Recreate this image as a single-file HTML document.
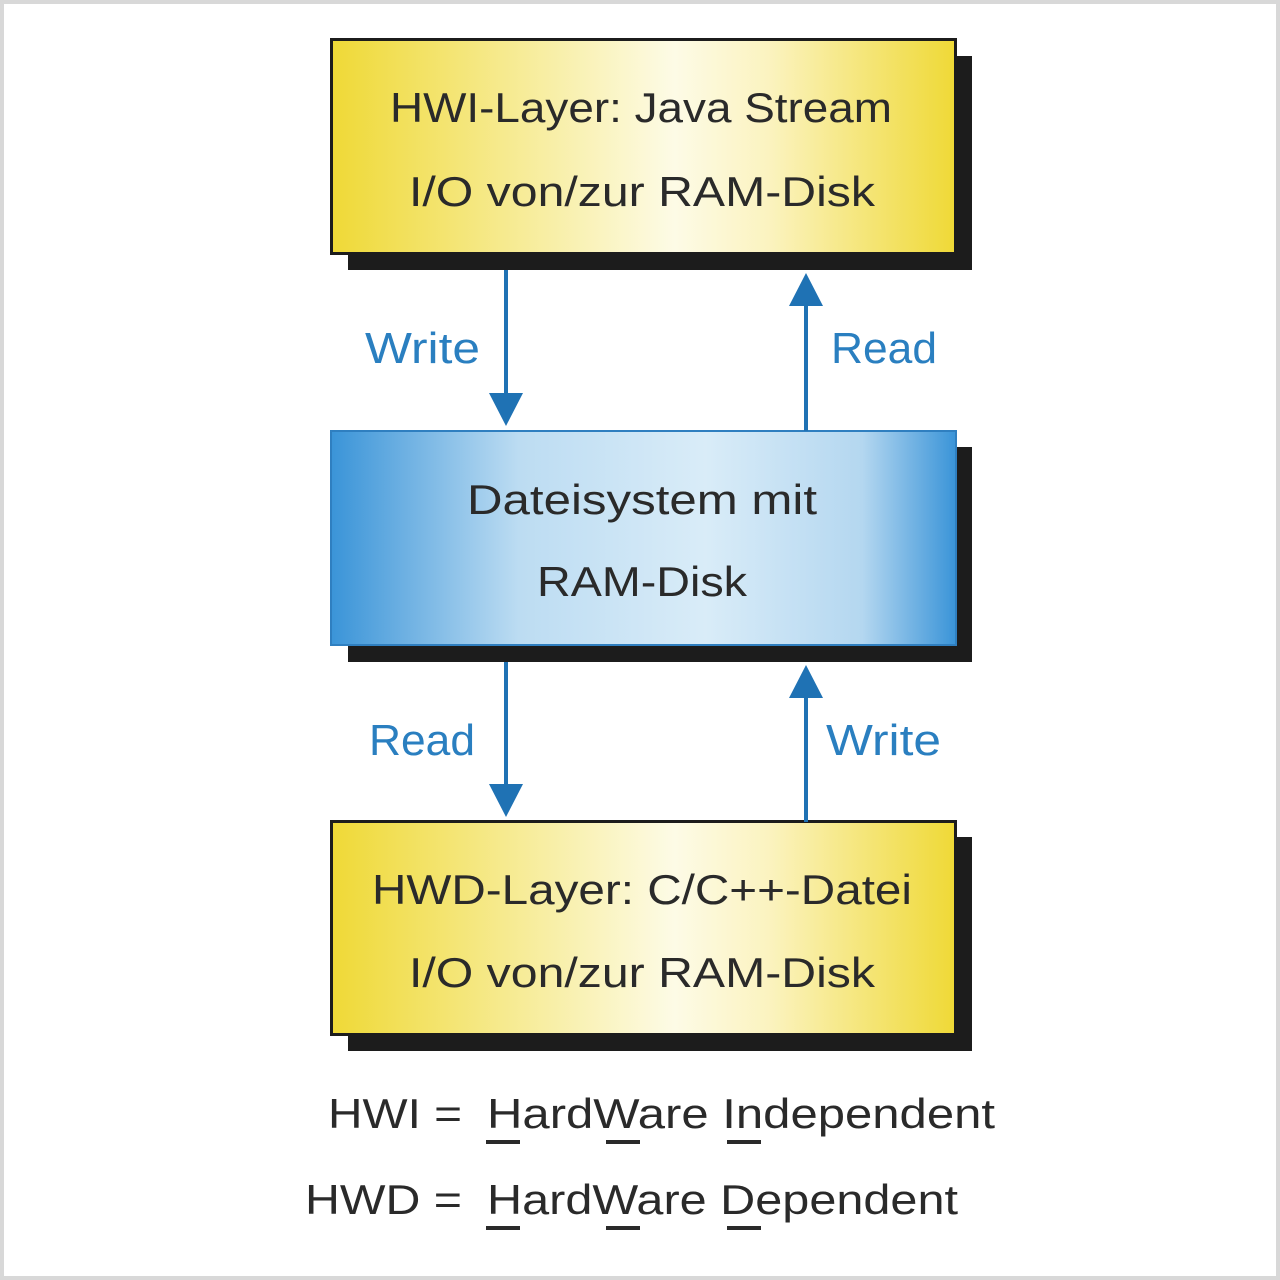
<!DOCTYPE html>
<html><head><meta charset="utf-8"><style>html,body{margin:0;padding:0;background:#fff}svg{display:block}</style></head>
<body>
<svg width="1280" height="1280" viewBox="0 0 1280 1280" xmlns="http://www.w3.org/2000/svg" font-family="'Liberation Sans', sans-serif">
<defs>
<linearGradient id="y" x1="0" x2="1" y1="0" y2="0">
<stop offset="0" stop-color="#efd936"/><stop offset="0.55" stop-color="#fdfbe6"/><stop offset="0.7" stop-color="#fbf3c0"/><stop offset="1" stop-color="#efd936"/>
</linearGradient>
<linearGradient id="b" x1="0" x2="1" y1="0" y2="0">
<stop offset="0" stop-color="#3a94d8"/><stop offset="0.3" stop-color="#bcdcf2"/><stop offset="0.6" stop-color="#d9ecf8"/><stop offset="0.85" stop-color="#b4d7f0"/><stop offset="1" stop-color="#3a94d8"/>
</linearGradient>
</defs>
<rect x="2" y="2" width="1276" height="1276" fill="#fff" stroke="#d8d8d8" stroke-width="4"/>
<!-- box 1 -->
<rect x="348" y="56" width="624" height="214" fill="#1c1c1c"/>
<rect x="331.5" y="39.5" width="624" height="214" fill="url(#y)" stroke="#1c1c1c" stroke-width="3"/>
<text x="390" y="122" font-size="42" fill="#2a2a2a" textLength="502" lengthAdjust="spacingAndGlyphs">HWI-Layer: Java Stream</text>
<text x="409" y="206" font-size="42" fill="#2a2a2a" textLength="466" lengthAdjust="spacingAndGlyphs">I/O von/zur RAM-Disk</text>
<!-- box 2 -->
<rect x="348" y="447" width="624" height="215" fill="#1c1c1c"/>
<rect x="331" y="431" width="625" height="214" fill="url(#b)" stroke="#2f7fc0" stroke-width="2"/>
<text x="467" y="514" font-size="42" fill="#2a2a2a" textLength="350" lengthAdjust="spacingAndGlyphs">Dateisystem mit</text>
<text x="537" y="596" font-size="42" fill="#2a2a2a" textLength="210" lengthAdjust="spacingAndGlyphs">RAM-Disk</text>
<!-- box 3 -->
<rect x="348" y="837" width="624" height="214" fill="#1c1c1c"/>
<rect x="331.5" y="821.5" width="624" height="213" fill="url(#y)" stroke="#1c1c1c" stroke-width="3"/>
<text x="372" y="904" font-size="42" fill="#2a2a2a" textLength="540" lengthAdjust="spacingAndGlyphs">HWD-Layer: C/C++-Datei</text>
<text x="409" y="987" font-size="42" fill="#2a2a2a" textLength="466" lengthAdjust="spacingAndGlyphs">I/O von/zur RAM-Disk</text>
<!-- arrows -->
<g fill="#1f72b4" stroke="#1f72b4">
<line x1="506" y1="270" x2="506" y2="395" stroke-width="4"/>
<polygon points="489,393 523,393 506,426" stroke="none"/>
<line x1="806" y1="304" x2="806" y2="431" stroke-width="4"/>
<polygon points="789,306 823,306 806,273" stroke="none"/>
<line x1="506" y1="662" x2="506" y2="786" stroke-width="4"/>
<polygon points="489,784 523,784 506,817" stroke="none"/>
<line x1="806" y1="696" x2="806" y2="822" stroke-width="4"/>
<polygon points="789,698 823,698 806,665" stroke="none"/>
</g>
<g fill="#2a7fc0" font-size="44">
<text x="365" y="363" textLength="115" lengthAdjust="spacingAndGlyphs">Write</text>
<text x="831" y="363" textLength="106" lengthAdjust="spacingAndGlyphs">Read</text>
<text x="369" y="755" textLength="106" lengthAdjust="spacingAndGlyphs">Read</text>
<text x="826" y="755" textLength="115" lengthAdjust="spacingAndGlyphs">Write</text>
</g>
<!-- legend -->
<g fill="#2a2a2a" font-size="42">
<text x="328" y="1128" textLength="134" lengthAdjust="spacingAndGlyphs">HWI =</text>
<text x="487" y="1128" textLength="508" lengthAdjust="spacingAndGlyphs">HardWare Independent</text>
<text x="305" y="1214" textLength="157" lengthAdjust="spacingAndGlyphs">HWD =</text>
<text x="487" y="1214" textLength="471" lengthAdjust="spacingAndGlyphs">HardWare Dependent</text>
<rect x="486" y="1140" width="34" height="4"/>
<rect x="606" y="1140" width="34" height="4"/>
<rect x="727" y="1140" width="34" height="4"/>
<rect x="486" y="1226" width="34" height="4"/>
<rect x="606" y="1226" width="34" height="4"/>
<rect x="727" y="1226" width="34" height="4"/>
</g>
</svg>
</body></html>
